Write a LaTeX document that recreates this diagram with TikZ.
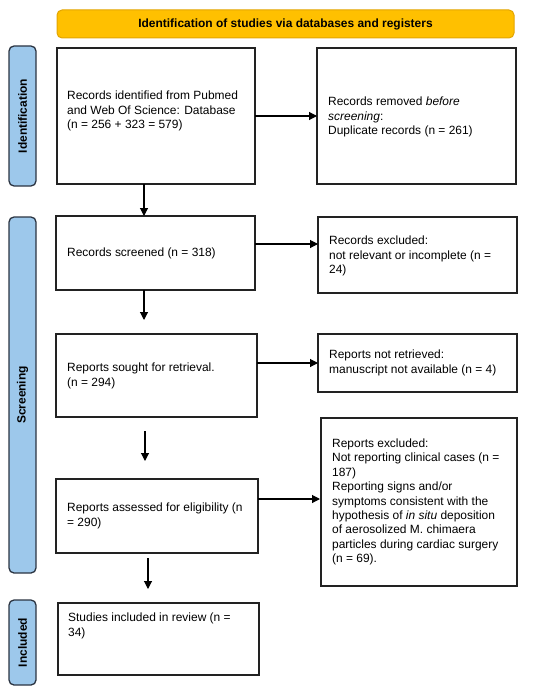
\documentclass[tikz,border=0pt]{standalone}
\usepackage{fontspec}
\setmainfont{Liberation Sans}
\usetikzlibrary{arrows.meta}
\definecolor{bannerfill}{HTML}{FFC000}
\definecolor{bannerdraw}{HTML}{E3A500}
\definecolor{labfill}{HTML}{9DC8EB}
\definecolor{labdraw}{HTML}{2B3442}
\definecolor{boxdraw}{HTML}{222222}
\begin{document}
\begin{tikzpicture}[x=1bp,y=-1bp,
  box/.style={draw=boxdraw,line width=1.1bp,fill=white},
  boxtext/.style={anchor=west,align=left,font=\fontsize{12}{14.5}\selectfont,inner sep=0pt},
  sidelab/.style={draw=labdraw,line width=1.3bp,fill=labfill,rounded corners=5bp},
  sidetext/.style={rotate=90,font=\bfseries\fontsize{12}{14}\selectfont,inner sep=0pt},
  arr/.style={-{Triangle[length=8bp,width=8bp]},line width=1.1bp,draw=black}]
\useasboundingbox (0,0) rectangle (550,690);
% banner
\draw[draw=bannerdraw,fill=bannerfill,line width=1bp,rounded corners=5bp] (57,10) rectangle (514,38);
\node[font=\bfseries\fontsize{12}{14}\selectfont] (banner) at (285.5,24.5) {Identification of studies via databases and registers};
% side labels
\draw[sidelab] (9,46) rectangle (36,186);
\node[sidetext] (lid) at (22.5,116) {Identification};
\draw[sidelab] (9,217) rectangle (36,573);
\node[sidetext] (lsc) at (22.5,395) {Screening};
\draw[sidelab] (9,600) rectangle (36,685);
\node[sidetext] (lin) at (22.5,642.5) {Included};
% boxes
\draw[box] (57,48) rectangle (255,184);
\node[boxtext] (t1) at (67,111) {Records identified from Pubmed\\and Web Of Science: Database\\(n = 256 + 323 = 579)};
\coordinate (b1s) at (144,184);
\coordinate (b1e) at (255,116);
\draw[box] (317,48) rectangle (516,184);
\node[boxtext] (t2) at (328,117) {Records removed \emph{before}\\\emph{screening}:\\Duplicate records (n = 261)};
\coordinate (b2w) at (317,116);

\draw[box] (56,216) rectangle (255,290);
\node[boxtext] (t3) at (67,253) {Records screened (n = 318)};
\coordinate (b3n) at (144,216);
\coordinate (b3s) at (144,290);
\coordinate (b3e) at (255,244);
\draw[box] (318,217) rectangle (517,293);
\node[boxtext] (t4) at (329,256) {Records excluded:\\not relevant or incomplete (n =\\24)};
\coordinate (b4w) at (318,244);

\draw[box] (56,334) rectangle (257,417);
\node[boxtext] (t5) at (67,376) {Reports sought for retrieval.\\(n = 294)};
\coordinate (b5n) at (144,334);
\coordinate (b5e) at (257,363);
\draw[box] (318,334) rectangle (517,392);
\node[boxtext] (t6) at (329,363) {Reports not retrieved:\\manuscript not available (n = 4)};
\coordinate (b6w) at (318,363);

\coordinate (g1) at (145,431);
\draw[box] (56,479) rectangle (258,553);
\node[boxtext] (t7) at (67,516) {Reports assessed for eligibility (n\\= 290)};
\coordinate (b7n) at (145,479);
\coordinate (b7e) at (258,499);
\coordinate (b7s) at (148,558);
\draw[box] (321,418) rectangle (517,586);
\node[boxtext] (t8) at (332,502) {Reports excluded:\\Not reporting clinical cases (n =\\187)\\Reporting signs and/or\\symptoms consistent with the\\hypothesis of \emph{in situ} deposition\\of aerosolized M. chimaera\\particles during cardiac surgery\\(n = 69).};
\coordinate (b8w) at (320,499);

\draw[box] (58,603) rectangle (259,675);
\node[boxtext,anchor=north west] (t9) at (68,613) {Studies included in review (n =\\34)};
\coordinate (b9n) at (148,603);

% arrows
\draw[arr] (b1e) -- (b2w);
\draw[arr] (b1s) -- (b3n);
\draw[arr] (b3e) -- (b4w);
\draw[arr] (b3s) -- ([yshift=14bp]b5n);
\draw[arr] (b5e) -- (b6w);
\draw[arr] (g1) -- ([yshift=18bp]b7n);
\draw[arr] (b7e) -- (b8w);
\draw[arr] (b7s) -- ([yshift=14bp]b9n);
\end{tikzpicture}
\end{document}
